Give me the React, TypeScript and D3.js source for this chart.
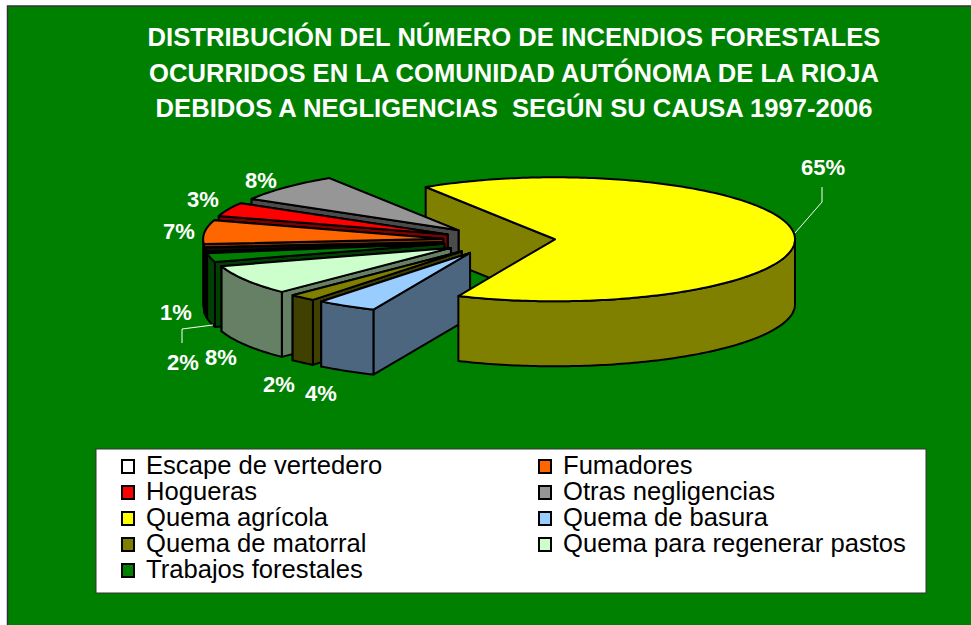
import React from "react";
import * as d3 from "d3";

const WIDTH = 971;
const HEIGHT = 625;

const titleLines = [
  "DISTRIBUCIÓN DEL NÚMERO DE INCENDIOS FORESTALES",
  "OCURRIDOS EN LA COMUNIDAD AUTÓNOMA DE LA RIOJA",
  "DEBIDOS A NEGLIGENCIAS  SEGÚN SU CAUSA 1997-2006",
];
const categories = [
  "Escape de vertedero",
  "Fumadores",
  "Hogueras",
  "Otras negligencias",
  "Quema agrícola",
  "Quema de basura",
  "Quema de matorral",
  "Quema para regenerar pastos",
  "Trabajos forestales",
];
const values = [1.1, 6.2, 3.6, 7.5, 65.65, 4.05, 1.8, 7.8, 2.3];
const percentLabels = ["1%", "7%", "3%", "8%", "65%", "4%", "2%", "8%", "2%"];
const topColors = ["#0a0a0a", "#FF6600", "#FF0000", "#969696", "#FFFF00", "#99CCFF", "#808000", "#CCFFCC", "#008000"];
const wallColors = ["#0a0a0a", "#803300", "#800000", "#4B4B4B", "#808000", "#4D6680", "#404000", "#668066", "#004000"];
const legendColors = ["#FFFFFF", "#FF6600", "#FF0000", "#969696", "#FFFF00", "#99CCFF", "#808000", "#CCFFCC", "#008000"];
const labelCenters: [number, number][] = [
  [176, 312], [179, 231], [203, 199], [261, 180], [823, 167], [321, 393], [279, 384], [221, 357], [183, 362],
];
const leaderLines: [number, number][][] = [
  [[795, 233], [822, 202], [822, 187]],
  [[213, 325], [182, 329], [182, 343]],
];

const CX = 499;
const CY = 240.4;
const RX = 240;
const RY = 62;
const DEPTH = 65;
const EXPLODE = 0.234;
const START_DEG = -98.84;
const rad = (d: number) => (d * Math.PI) / 180;

const pie = d3
  .pie<number>()
  .sort(null)
  .startAngle(rad(START_DEG))
  .endAngle(rad(START_DEG + 360));
const arcs = pie(values);

type Pt = [number, number];
const line = d3.line<Pt>();
const closed = (pts: Pt[]) => (line(pts) as string) + "Z";

function sliceGeom(i: number) {
  const a = arcs[i];
  const mid = (a.startAngle + a.endAngle) / 2;
  const ax = CX + EXPLODE * RX * Math.sin(mid);
  const ay = CY - EXPLODE * RY * Math.cos(mid);
  const at = (t: number): Pt => [ax + RX * Math.sin(t), ay - RY * Math.cos(t)];
  const sample = (t0: number, t1: number) => {
    const n = Math.max(2, Math.ceil(Math.abs(t1 - t0) / rad(1)));
    return d3.range(n + 1).map((k) => at(t0 + ((t1 - t0) * k) / n));
  };
  const apex: Pt = [ax, ay];
  const down = (p: Pt): Pt => [p[0], p[1] + DEPTH];
  const top = closed([apex, ...sample(a.startAngle, a.endAngle)]);
  const wall = (t: number) => {
    const p = at(t);
    return closed([apex, p, down(p), down(apex)]);
  };
  const startWall = wall(a.startAngle);
  const endWall = wall(a.endAngle);
  const backFirst = at(a.startAngle)[1] < at(a.endAngle)[1];
  // the rim faces the viewer only on the lower half of the ellipse
  const ranges: [number, number][] = [];
  const clip = (l: number, h: number) => {
    const s = Math.max(a.startAngle, l);
    const e = Math.min(a.endAngle, h);
    if (e > s) ranges.push([s, e]);
  };
  clip(rad(-270), rad(-90));
  clip(rad(90), rad(270));
  const rims = ranges.map(([s, e]) => {
    const pts = sample(s, e);
    return closed([...pts, ...pts.slice().reverse().map(down)]);
  });
  return { top, startWall, endWall, backFirst, rims };
}

const YELLOW = 4;
const paintOrder = [3, 2, 1, 0, 8, 7, 6, 5];
const STROKE = { stroke: "#000", strokeWidth: 2, strokeLinejoin: "round" as const };

function Slice({ i }: { i: number }) {
  const g = sliceGeom(i);
  const walls = g.backFirst ? [g.startWall, g.endWall] : [g.endWall, g.startWall];
  return (
    <g>
      {walls.map((d, k) => (
        <path key={k} d={d} fill={wallColors[i]} {...STROKE} />
      ))}
      {g.rims.map((d, k) => (
        <path key={k} d={d} fill={wallColors[i]} {...STROKE} />
      ))}
      <path d={g.top} fill={topColors[i]} {...STROKE} />
    </g>
  );
}

function YellowBack() {
  const g = sliceGeom(YELLOW);
  return <path d={g.startWall} fill={wallColors[YELLOW]} {...STROKE} />;
}
function YellowFront() {
  const g = sliceGeom(YELLOW);
  return (
    <g>
      {g.rims.map((d, k) => (
        <path key={k} d={d} fill={wallColors[YELLOW]} {...STROKE} />
      ))}
      <path d={g.top} fill={topColors[YELLOW]} {...STROKE} />
    </g>
  );
}

const legendRows = [0, 1, 2, 3, 4];
const rowY = d3.scalePoint<number>().domain(legendRows).range([466, 570]);
const colX = d3.scalePoint<number>().domain([0, 1]).range([122, 539]);

export default function App() {
  return (
    <svg
      width={WIDTH}
      height={HEIGHT}
      style={{ position: "absolute", left: 0, top: 0, background: "#fff" }}
      fontFamily="'Liberation Sans', Arial, sans-serif"
    >
      <rect x={7.5} y={6} width={WIDTH} height={HEIGHT} fill="#008000" stroke="#333" strokeWidth={1.5} />
      {titleLines.map((t, i) => (
        <text
          key={i}
          x={514}
          y={46 + i * 35.5}
          textAnchor="middle"
          fill="#fff"
          fontWeight="bold"
          fontSize={25.6}
          style={{ whiteSpace: "pre" }}
        >
          {t}
        </text>
      ))}

      <YellowBack />
      {paintOrder.map((i) => (
        <Slice key={i} i={i} />
      ))}
      <YellowFront />

      {leaderLines.map((pts, i) => (
        <path key={i} d={line(pts) as string} fill="none" stroke="#fff" strokeWidth={1} />
      ))}
      {percentLabels.map((label, i) => (
        <text
          key={i}
          x={labelCenters[i][0]}
          y={labelCenters[i][1] + 8}
          textAnchor="middle"
          fill="#fff"
          fontWeight="bold"
          fontSize={22}
        >
          {label}
        </text>
      ))}

      <rect x={96} y={449} width={830} height={144} fill="#fff" stroke="#333" strokeWidth={1} />
      {categories.map((c, i) => {
        const col = i % 2;
        const row = Math.floor(i / 2);
        const x = colX(col) as number;
        const y = rowY(row) as number;
        return (
          <g key={c}>
            <rect x={x} y={y - 6} width={12} height={13} fill={legendColors[i]} stroke="#000" strokeWidth={2} />
            <text x={x + 24} y={y + 8} fontSize={25.6} fill="#000">
              {c}
            </text>
          </g>
        );
      })}
    </svg>
  );
}
